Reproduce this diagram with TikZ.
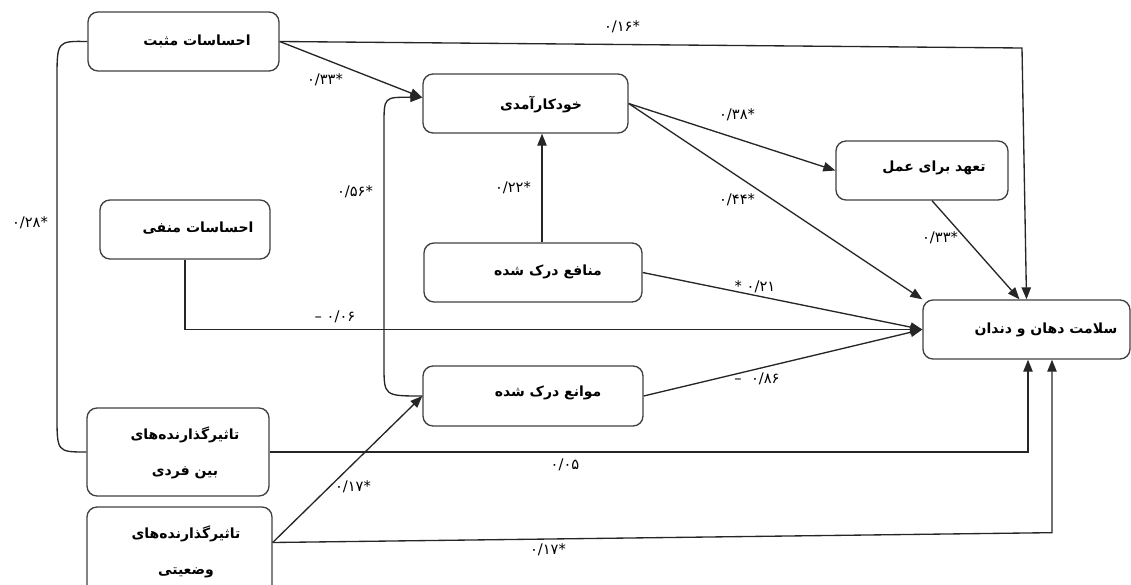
\documentclass[tikz,border=0pt]{standalone}
\usepackage{fontspec}
\usetikzlibrary{arrows.meta,fit,calc}
\TeXXeTstate=1
\newfontfamily\arabicfont[Script=Arabic]{DejaVu Sans}
\newfontfamily\digitfont{DejaVu Sans}
\begin{document}
\begin{tikzpicture}[x=0.75pt,y=-0.75pt,
  box/.style={draw=black!75, line width=1pt, rounded corners=7.5pt, inner sep=0pt},
  vname/.style={font=\arabicfont\bfseries\fontsize{10.5}{27}\selectfont, align=center, inner sep=0pt},
  coef/.style={font=\digitfont\fontsize{11}{13}\selectfont, inner sep=1pt},
  link/.style={draw=black!85, line width=1pt},
  arr/.style={link, -{Triangle[length=9pt,width=7pt]}}]

\useasboundingbox (0,0) rectangle (1131,585);

% variable boxes
\node[box, fit={(88,12) (279,71)}]    (pm) {};
\node[box, fit={(100,200) (270,259)}] (nf) {};
\node[box, fit={(423,74) (628,133)}]  (kh) {};
\node[box, fit={(424,243) (642,302)}] (mn) {};
\node[box, fit={(423,366) (643,426)}] (mv) {};
\node[box, fit={(836,141) (1008,200)}] (td) {};
\node[box, fit={(923,300) (1130,359)}] (sl) {};
\node[box, fit={(87,408) (269,496)}]  (bf) {};
\node[box, fit={(87,507) (272,600)}]  (vz) {};

% box captions
\node[vname] (pm-t) at (197,41)  {\beginR احساسات مثبت\endR};
\node[vname] (nf-t) at (198,228) {\beginR احساسات منفی\endR};
\node[vname] (kh-t) at (541,105) {\beginR خودکارآمدی\endR};
\node[vname] (mn-t) at (548,272) {\beginR منافع درک شده\endR};
\node[vname] (mv-t) at (548,393) {\beginR موانع درک شده\endR};
\node[vname] (td-t) at (934,168) {\beginR تعهد برای عمل\endR};
\node[vname] (sl-t) at (1046,330) {\beginR سلامت دهان و دندان\endR};
\node[vname] (bf-t) at (185,453) {\beginR تاثیرگذارنده‌های\endR\\\beginR بین فردی\endR};
\node[vname] (vz-t) at (186,552) {\beginR تاثیرگذارنده‌های\endR\\\beginR وضعیتی\endR};

% helper points
\coordinate (tc) at (1022,48);
\coordinate (khin) at ($(kh.west)+(0,-6)$);
\coordinate (vx) at (542,0);
\coordinate (vzout) at ($(vz.east)+(0,-11)$);
\coordinate (bc) at ($(sl.south)+(25.5,173)$);

% correlation between positive feelings and interpersonal influences
\draw[link] (pm.west) .. controls (57,41) .. (57,80) -- (57,415) .. controls (57,452) .. (bf.west);

% paths
\draw[arr] (pm.east) -- (tc) -- (sl.north);
\draw[arr] (pm.east) -- (khin);
\draw[arr] (mv.west) .. controls (384,396) .. (384,365) -- (384,125) .. controls (384,97) .. (khin);
\draw[arr] (kh.east) -- (td.west);
\draw[arr] (kh.east) -- (sl.north west);
\draw[arr] (mn.north -| vx) -- (kh.south -| vx);
\draw[arr] (mn.east) -- (sl.west);
\draw[arr] (mv.east) -- (sl.west);
\draw[arr] (nf.south) |- (sl.west);
\draw[arr] ($(td.south)+(10,0)$) -- ($(sl.north)+(-7,0)$);
\draw[arr] (bf.east) -| ($(sl.south)+(1.5,0)$);
\draw[arr] (vzout) -- (bc) -- ($(sl.south)+(25.5,0)$);
\draw[arr] (vzout) -- (mv.west);

% path coefficients
\node[coef] (k16) at (622,27)  {۰/۱۶*};
\node[coef] (k33a) at (325,80) {۰/۳۳*};
\node[coef] (k56) at (355,192) {۰/۵۶*};
\node[coef] (k28) at (30,223)  {۰/۲۸*};
\node[coef] (k38) at (737,115) {۰/۳۸*};
\node[coef] (k22) at (513,188) {۰/۲۲*};
\node[coef] (k44) at (737,200) {۰/۴۴*};
\node[coef] (k33b) at (940,238) {۰/۳۳*};
\node[coef] (k21) at (755,287) {* ۰/۲۱};
\node[coef] (k06) at (335,317) {–\ ۰/۰۶};
\node[coef] (k86) at (757,379) {–\ \ ۰/۸۶};
\node[coef] (k05) at (565,465) {۰/۰۵};
\node[coef] (k17a) at (353,487) {۰/۱۷*};
\node[coef] (k17b) at (548,550) {۰/۱۷*};
\end{tikzpicture}
\end{document}
